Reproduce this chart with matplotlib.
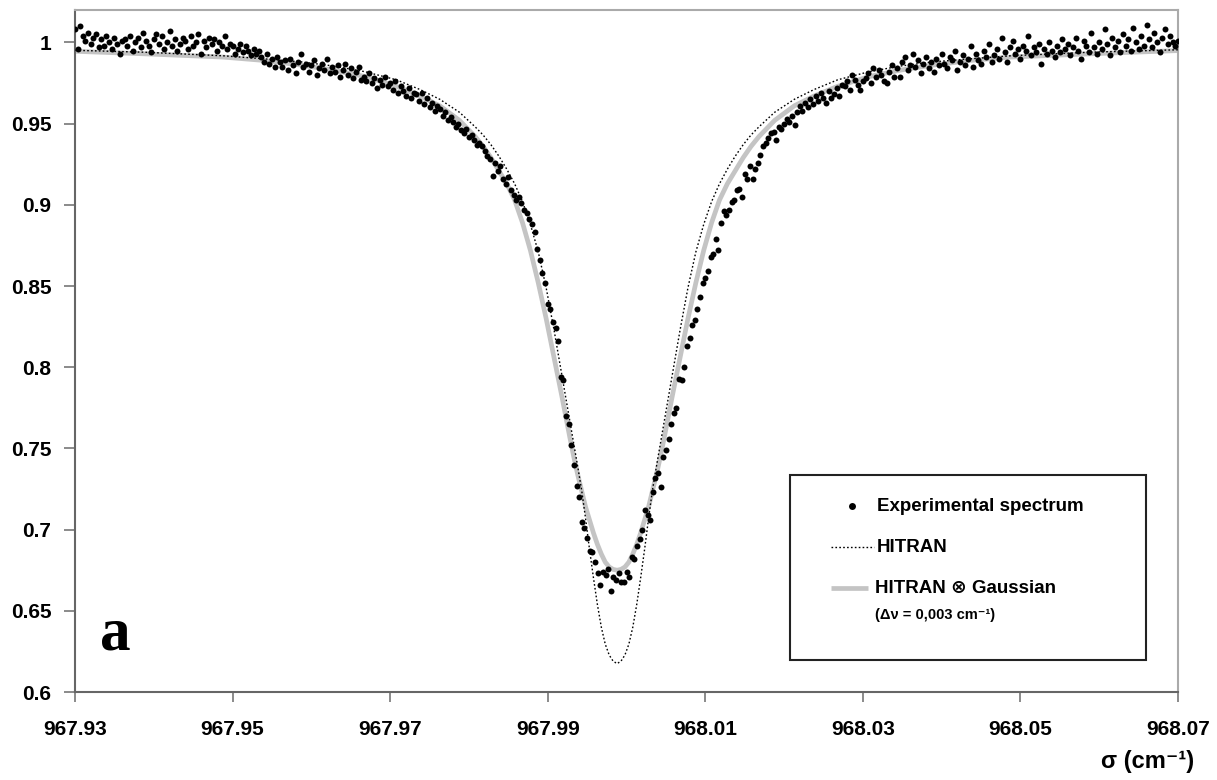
import numpy as np
import matplotlib.pyplot as plt

plt.rcParams['font.family'] = ['Liberation Sans', 'DejaVu Sans']

# experimental transmission, sampled evenly from 967.93 to 968.07 cm-1
exp_y = [
    1.008, 0.996, 1.010, 1.004, 1.001, 1.006, 0.999, 1.003, 1.005, 0.997,
    1.002, 0.998, 1.004, 1.000, 0.996, 1.003, 0.999, 0.993, 1.001, 1.002,
    0.998, 1.004, 0.995, 1.000, 1.003, 0.997, 1.006, 1.001, 0.998, 0.994,
    1.002, 1.005, 0.999, 1.004, 0.996, 1.000, 1.007, 0.998, 1.002, 0.995,
    0.999, 1.003, 1.001, 0.996, 1.004, 0.998, 1.000, 1.005, 0.993, 1.001,
    0.997, 1.003, 0.999, 1.002, 0.995, 1.000, 0.998, 1.004, 0.996, 0.999,
    0.998, 0.993, 0.996, 0.999, 0.994, 0.998, 0.995, 0.992, 0.996, 0.993,
    0.995, 0.991, 0.988, 0.993, 0.987, 0.990, 0.985, 0.991, 0.988, 0.985,
    0.989, 0.983, 0.990, 0.986, 0.981, 0.988, 0.993, 0.985, 0.987, 0.982,
    0.986, 0.989, 0.980, 0.984, 0.987, 0.983, 0.990, 0.981, 0.985, 0.982,
    0.986, 0.979, 0.983, 0.987, 0.980, 0.984, 0.978, 0.982, 0.985, 0.977,
    0.979, 0.976, 0.981, 0.975, 0.978, 0.972, 0.977, 0.974, 0.979, 0.973,
    0.975, 0.971, 0.976, 0.969, 0.973, 0.970, 0.967, 0.972, 0.966, 0.969,
    0.968, 0.964, 0.969, 0.962, 0.966, 0.960, 0.963, 0.958, 0.961, 0.959,
    0.955, 0.957, 0.952, 0.954, 0.951, 0.948, 0.950, 0.946, 0.944, 0.947,
    0.942, 0.943, 0.940, 0.937, 0.938, 0.936, 0.933, 0.930, 0.928, 0.918,
    0.926, 0.921, 0.924, 0.916, 0.913, 0.917, 0.909, 0.906, 0.903, 0.905,
    0.901, 0.897, 0.895, 0.891, 0.888, 0.883, 0.873, 0.866, 0.858, 0.852,
    0.839, 0.836, 0.828, 0.824, 0.816, 0.794, 0.792, 0.770, 0.765, 0.752,
    0.740, 0.727, 0.720, 0.705, 0.701, 0.695, 0.687, 0.686, 0.680, 0.673,
    0.666, 0.674, 0.672, 0.676, 0.662, 0.671, 0.669, 0.673, 0.668, 0.668,
    0.674, 0.671, 0.683, 0.682, 0.690, 0.694, 0.700, 0.712, 0.709, 0.706,
    0.723, 0.732, 0.735, 0.726, 0.745, 0.749, 0.756, 0.765, 0.772, 0.775,
    0.793, 0.792, 0.800, 0.813, 0.818, 0.826, 0.829, 0.836, 0.843, 0.852,
    0.855, 0.859, 0.868, 0.870, 0.879, 0.872, 0.889, 0.896, 0.894, 0.897,
    0.902, 0.903, 0.909, 0.910, 0.905, 0.919, 0.916, 0.924, 0.916, 0.922,
    0.926, 0.931, 0.936, 0.938, 0.941, 0.944, 0.945, 0.940, 0.948, 0.947,
    0.950, 0.953, 0.951, 0.955, 0.949, 0.957, 0.961, 0.958, 0.963, 0.960,
    0.965, 0.962, 0.967, 0.964, 0.969, 0.966, 0.963, 0.970, 0.966, 0.968,
    0.972, 0.967, 0.974, 0.973, 0.976, 0.971, 0.980, 0.977, 0.974, 0.971,
    0.976, 0.978, 0.981, 0.975, 0.984, 0.979, 0.983, 0.980, 0.976, 0.975,
    0.982, 0.986, 0.979, 0.984, 0.979, 0.988, 0.991, 0.983, 0.986, 0.993,
    0.985, 0.989, 0.981, 0.987, 0.991, 0.984, 0.988, 0.982, 0.990, 0.986,
    0.993, 0.987, 0.984, 0.991, 0.989, 0.995, 0.983, 0.988, 0.992, 0.986,
    0.990, 0.998, 0.985, 0.993, 0.989, 0.987, 0.995, 0.991, 0.999, 0.988,
    0.992, 0.996, 0.990, 1.003, 0.994, 0.988, 0.997, 1.001, 0.993, 0.996,
    0.990, 0.998, 0.995, 1.004, 0.992, 0.997, 0.994, 0.999, 0.987, 0.996,
    0.993, 1.000, 0.995, 0.991, 0.998, 0.994, 1.002, 0.996, 0.999, 0.992,
    0.997, 1.003, 0.995, 0.990, 1.001, 0.998, 0.994, 1.006, 0.997, 0.993,
    1.000, 0.996, 1.008, 0.999, 0.992, 1.003, 0.997, 1.001, 0.994, 1.005,
    0.998, 1.002, 0.995, 1.009, 1.000, 0.996, 1.004, 0.998, 1.011, 1.002,
    0.997, 1.006, 1.000, 0.994, 1.003, 1.008, 0.999, 1.004, 1.000, 0.998,
    1.001,
]
exp_x = np.linspace(967.93, 968.07, len(exp_y))

# line centre and half-profiles (distance from centre, transmission)
center = 967.9988
prof_dx = [0, 0.0005, 0.001, 0.0015, 0.002, 0.0025, 0.003, 0.0035, 0.004,
           0.0045, 0.005, 0.0055, 0.006, 0.007, 0.008, 0.009, 0.010, 0.011,
           0.012, 0.013, 0.014, 0.015, 0.016, 0.017, 0.018, 0.020, 0.0225,
           0.025, 0.028, 0.032, 0.036, 0.040, 0.045, 0.050, 0.060, 0.0712]
hitran_y = [0.6175, 0.6190, 0.6228, 0.6295, 0.6400, 0.6540, 0.6705, 0.6880,
            0.7070, 0.7245, 0.7390, 0.7530, 0.7670, 0.7950, 0.8230, 0.8490,
            0.8710, 0.8880, 0.9020, 0.9130, 0.9220, 0.9300, 0.9370, 0.9430,
            0.9480, 0.9570, 0.9650, 0.9710, 0.9770, 0.9820, 0.9855, 0.9880,
            0.9900, 0.9918, 0.9940, 0.9955]
gauss_y = [0.675, 0.6755, 0.677, 0.680, 0.685, 0.691, 0.698, 0.706, 0.714,
           0.724, 0.734, 0.745, 0.757, 0.782, 0.806, 0.830, 0.852, 0.872,
           0.889, 0.903, 0.913, 0.921, 0.929, 0.936, 0.942, 0.952, 0.961,
           0.967, 0.973, 0.979, 0.983, 0.986, 0.989, 0.991, 0.993, 0.995]

dx = np.array(prof_dx)
prof_x = np.concatenate([center - dx[::-1], center + dx[1:]])
hitran_full = np.concatenate([hitran_y[::-1], hitran_y[1:]])
gauss_full = np.concatenate([gauss_y[::-1], gauss_y[1:]])

xticks = [967.93, 967.95, 967.97, 967.99, 968.01, 968.03, 968.05, 968.07]
yticks = [0.6, 0.65, 0.7, 0.75, 0.8, 0.85, 0.9, 0.95, 1.0]
ytick_labels = ['0.6', '0.65', '0.7', '0.75', '0.8', '0.85', '0.9', '0.95', '1']

fig = plt.figure(figsize=(12.17, 7.80), dpi=100)
ax = fig.add_axes([0.0616, 0.1128, 0.9064, 0.8744])

ax.plot(prof_x, gauss_full, color='#c4c4c4', lw=3.4, solid_capstyle='butt', zorder=2)
ax.plot(prof_x, hitran_full, color='black', lw=1.0, linestyle=(0, (1.2, 1.6)), zorder=3)
ax.plot(exp_x, exp_y, 'o', color='black', ms=4.3, mew=0, zorder=4)

ax.set_xlim(967.93, 968.07)
ax.set_ylim(0.6, 1.02)
ax.set_xticks(xticks)
ax.set_xticklabels(['%.2f' % t for t in xticks])
ax.set_yticks(yticks)
ax.set_yticklabels(ytick_labels)
ax.tick_params(axis='x', direction='out', length=7, width=1.2, color='#777777', pad=13, labelsize=15)
ax.tick_params(axis='y', direction='out', length=8, width=1.2, color='#777777', pad=9, labelsize=15)
for lab in ax.get_xticklabels() + ax.get_yticklabels():
    lab.set_fontweight('bold')

ax.spines['left'].set_color('#666666')
ax.spines['bottom'].set_color('#666666')
ax.spines['top'].set_color('#aaaaaa')
ax.spines['right'].set_color('#aaaaaa')
for s in ax.spines.values():
    s.set_linewidth(1.5)

# legend box drawn by hand
box = plt.Rectangle((0.648, 0.047), 0.323, 0.271, transform=ax.transAxes,
                    fill=False, edgecolor='#222222', lw=1.5, zorder=5)
ax.add_patch(box)
ax.plot([0.7044], [0.2727], 'o', color='black', ms=5, mew=0, transform=ax.transAxes, zorder=6)
ax.text(0.7271, 0.2727, 'Experimental spectrum', transform=ax.transAxes,
        fontsize=13.5, fontweight='bold', va='center', ha='left')
ax.plot([0.6854, 0.7244], [0.2126, 0.2126], color='black', lw=1.0,
        linestyle=(0, (1.2, 1.6)), transform=ax.transAxes, zorder=6)
ax.text(0.7271, 0.2126, 'HITRAN', transform=ax.transAxes,
        fontsize=13.5, fontweight='bold', va='center', ha='left')
ax.plot([0.6854, 0.7190], [0.1525, 0.1525], color='#c4c4c4', lw=3.4,
        solid_capstyle='butt', transform=ax.transAxes, zorder=6)
ax.text(0.7253, 0.1525, 'HITRAN \u2297 Gaussian', transform=ax.transAxes,
        fontsize=13.5, fontweight='bold', va='center', ha='left')
ax.text(0.7253, 0.1129, '(\u0394\u03bd = 0,003 cm\u207b\u00b9)', transform=ax.transAxes,
        fontsize=10.5, fontweight='bold', va='center', ha='left')

fig.text(0.0822, 0.1667, 'a', fontsize=44, fontweight='bold',
         family='Liberation Serif', va='baseline', ha='left')

fig.text(0.981, 0.024, '\u03c3 (cm\u207b\u00b9)', fontsize=17, fontweight='bold',
         ha='right', va='center')

fig.savefig('out.png', dpi=100)
